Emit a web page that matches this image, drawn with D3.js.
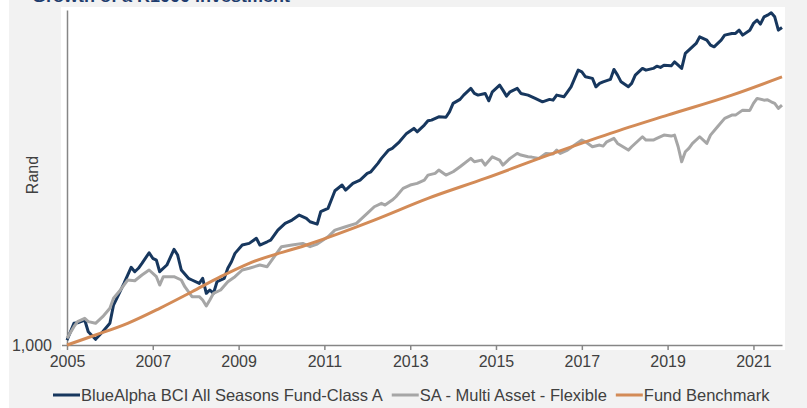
<!DOCTYPE html>
<html>
<head>
<meta charset="utf-8">
<script src="https://cdn.jsdelivr.net/npm/d3@7"></script>
<style>
body { margin: 0; background: #fff; }
svg { display: block; font-family: "Liberation Sans", Arial, sans-serif; }
</style>
</head>
<body>
<svg id="chart" width="807" height="408"></svg>
<script>
// months are counted from Jan 2005
var yearTicks = [2005, 2007, 2009, 2011, 2013, 2015, 2017, 2019, 2021];
var seriesNames = ["BlueAlpha BCI All Seasons Fund-Class A", "SA - Multi Asset - Flexible", "Fund Benchmark"];

var blueMonth = [0, 2, 3, 5, 6, 8, 10, 12, 13, 14, 16, 18, 19, 20, 21, 23, 24, 25, 26, 28, 30, 31, 32, 34, 35, 37, 38, 39, 40, 41, 42, 44, 45, 46, 47, 49, 51, 53, 54, 56, 57, 59, 61, 63, 65, 67, 68, 70, 71, 73, 74, 75, 77, 78, 80, 82, 84, 85, 87, 88, 90, 91, 93, 95, 97, 98, 100, 101, 102, 104, 106, 107, 108, 110, 111, 113, 114, 115, 117, 118, 119, 121, 122, 123, 124, 126, 127, 129, 131, 133, 135, 136, 137, 139, 140, 141, 142, 143, 144, 145, 147, 148, 149, 150, 152, 153, 154, 155, 157, 158, 159, 161, 162, 164, 165, 166, 167, 169, 170, 171, 172, 173, 174, 176, 177, 179, 180, 181, 183, 184, 186, 187, 188, 189, 191, 192, 193, 194, 195, 196, 197, 198, 199, 200];
var blueValue = [1031, 1144, 1148, 1168, 1086, 1036, 1086, 1144, 1282, 1336, 1466, 1620, 1576, 1610, 1660, 1773, 1713, 1694, 1576, 1643, 1811, 1748, 1593, 1513, 1497, 1466, 1513, 1378, 1407, 1378, 1481, 1513, 1610, 1677, 1766, 1860, 1879, 1939, 1860, 1898, 1918, 2041, 2128, 2172, 2240, 2195, 2149, 2118, 2287, 2335, 2459, 2605, 2699, 2616, 2727, 2784, 2902, 2931, 3087, 3185, 3353, 3389, 3530, 3719, 3836, 3756, 3916, 4021, 4039, 4123, 4110, 4252, 4480, 4593, 4717, 4917, 4766, 4717, 4766, 4553, 4814, 5018, 4865, 4688, 4814, 4917, 4766, 4717, 4621, 4525, 4593, 4572, 4717, 4668, 4814, 4966, 5232, 5508, 5450, 5284, 5232, 4966, 5072, 5122, 5200, 5532, 5340, 5122, 4966, 5072, 5340, 5567, 5508, 5567, 5646, 5600, 5681, 5656, 5799, 5681, 5567, 6109, 6235, 6500, 6772, 6634, 6432, 6365, 6634, 6844, 6916, 6916, 7059, 6844, 7059, 7359, 7511, 7327, 7667, 7748, 7860, 7667, 7059, 7179];

var grayMonth = [0, 2, 3, 5, 6, 8, 10, 12, 13, 15, 17, 19, 21, 23, 25, 26, 27, 30, 32, 33, 35, 37, 38, 39, 40, 41, 43, 45, 47, 49, 51, 54, 56, 58, 60, 63, 66, 68, 70, 73, 75, 78, 81, 84, 86, 88, 89, 91, 92, 94, 96, 98, 100, 101, 103, 104, 106, 108, 110, 113, 114, 116, 117, 119, 121, 122, 124, 126, 127, 129, 130, 132, 134, 136, 137, 138, 140, 142, 144, 145, 147, 149, 150, 151, 153, 154, 157, 158, 161, 162, 164, 165, 167, 169, 170, 171, 172, 173, 174, 175, 177, 179, 180, 182, 184, 186, 187, 189, 191, 192, 193, 195, 196, 197, 198, 199, 200];
var grayValue = [1042, 1120, 1156, 1180, 1156, 1144, 1192, 1256, 1336, 1407, 1497, 1490, 1544, 1593, 1528, 1451, 1528, 1528, 1497, 1436, 1350, 1350, 1322, 1274, 1322, 1378, 1407, 1481, 1528, 1593, 1610, 1643, 1626, 1730, 1841, 1860, 1879, 1841, 1871, 1958, 2041, 2083, 2128, 2264, 2359, 2409, 2384, 2459, 2510, 2644, 2699, 2727, 2784, 2871, 2902, 2962, 2871, 2931, 3023, 3185, 3118, 3151, 3055, 3217, 3151, 3055, 3185, 3285, 3251, 3217, 3210, 3185, 3285, 3271, 3353, 3285, 3353, 3459, 3568, 3530, 3423, 3459, 3437, 3530, 3606, 3495, 3353, 3423, 3642, 3568, 3568, 3606, 3680, 3657, 3680, 3423, 3118, 3318, 3389, 3495, 3642, 3495, 3680, 3875, 4082, 4166, 4166, 4297, 4290, 4480, 4621, 4572, 4580, 4525, 4480, 4343, 4433];

var benchMonth = [0, 8, 17, 26, 35, 43, 51, 67, 86, 101, 117, 136, 152, 168, 186, 200];
var benchValue = [1000, 1064, 1144, 1256, 1392, 1528, 1660, 1860, 2172, 2485, 2813, 3285, 3719, 4166, 4717, 5284];

var colors = ["#17375e", "#a6a6a6", "#d38b57"];

function toPoints(months, values) {
    return months.map(function(m, i) { return {date: new Date(2005, m, 1), value: values[i]}; });
}
var series = [
    toPoints(blueMonth, blueValue),
    toPoints(grayMonth, grayValue),
    toPoints(benchMonth, benchValue)
];

var svg = d3.select("#chart");

// panel backgrounds
svg.append("rect").attr("x", 9).attr("y", 0).attr("width", 798).attr("height", 408).attr("fill", "#f2f2f2");
svg.append("rect").attr("x", 61).attr("y", 7).attr("width", 724).attr("height", 343).attr("fill", "#ffffff");

// title sits mostly above the crop, as in the source
svg.append("text")
    .attr("x", 32).attr("y", 2)
    .attr("textLength", 258).attr("lengthAdjust", "spacingAndGlyphs")
    .style("font-size", "16px").style("font-weight", "bold")
    .attr("fill", "#1f3d6e")
    .text("Growth of a R1000 investment");

var x = d3.scaleTime()
    .domain([new Date(2005, 0, 1), new Date(2021, 8, 1)])
    .range([67, 782]);
var y = d3.scaleLog()
    .domain([1000, 8000])
    .range([345, 10]);

var xAxis = svg.append("g")
    .attr("transform", "translate(0,345)")
    .call(d3.axisBottom(x)
        .tickValues(yearTicks.map(function(yr) { return new Date(yr, 0, 1); }))
        .tickFormat(d3.timeFormat("%Y"))
        .tickSize(5).tickSizeOuter(0));
xAxis.selectAll("text").attr("y", 11);

var yAxis = svg.append("g")
    .attr("transform", "translate(67,0)")
    .call(d3.axisLeft(y)
        .tickValues([1000])
        .tickFormat(d3.format(","))
        .tickSize(5).tickSizeOuter(0));
yAxis.selectAll("text").attr("x", -15);

svg.selectAll(".domain, .tick line").attr("stroke", "#868686").attr("stroke-width", 1.5);
svg.selectAll(".tick text").style("font-size", "16px").attr("fill", "#404040")
    .style("font-family", "'Liberation Sans', Arial, sans-serif");

svg.append("text")
    .attr("transform", "translate(38,175) rotate(-90)")
    .attr("text-anchor", "middle")
    .style("font-size", "16px")
    .attr("fill", "#404040")
    .text("Rand");

var line = d3.line()
    .x(function(d) { return x(d.date); })
    .y(function(d) { return y(d.value); });
var smooth = d3.line()
    .curve(d3.curveMonotoneX)
    .x(function(d) { return x(d.date); })
    .y(function(d) { return y(d.value); });

series.forEach(function(s, i) {
    svg.append("path")
        .datum(s)
        .attr("fill", "none")
        .attr("stroke", colors[i])
        .attr("stroke-width", 3)
        .attr("stroke-linejoin", "round")
        .attr("d", i == 2 ? smooth : line);
});

/***** Legend *****/
var lx = 53;
seriesNames.forEach(function(name, i) {
    svg.append("line")
        .attr("x1", lx).attr("x2", lx + 27)
        .attr("y1", 395).attr("y2", 395)
        .attr("stroke", colors[i]).attr("stroke-width", 3);
    var t = svg.append("text")
        .attr("x", lx + 28).attr("y", 401)
        .style("font-size", "16.5px")
        .attr("fill", "#404040")
        .text(name);
    lx = lx + 28 + t.node().getComputedTextLength() + 9;
});
</script>
</body>
</html>
